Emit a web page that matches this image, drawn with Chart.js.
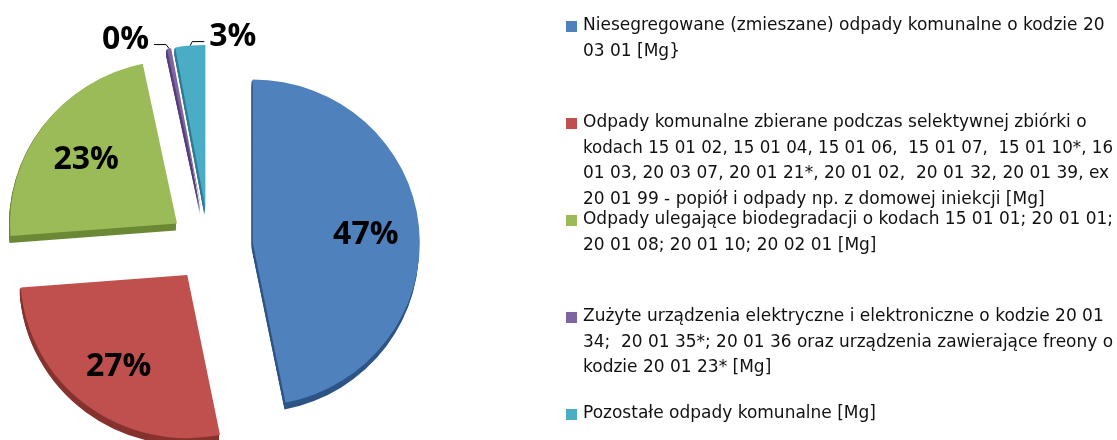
<!DOCTYPE html>
<html>
<head>
<meta charset="utf-8">
<script src="https://cdn.jsdelivr.net/npm/chart.js@4.4.1/dist/chart.umd.min.js"></script>
<style>
  html, body { margin: 0; padding: 0; background: #fff; }
  #wrap { width: 1117px; height: 440px; }
</style>
</head>
<body>
<div id="wrap"><canvas id="wasteChart" width="1117" height="440"></canvas></div>
<script>
/* ---------- dane ---------- */
const categories = [
  ['Niesegregowane (zmieszane) odpady komunalne o kodzie 20', '03 01 [Mg}'],
  ['Odpady komunalne zbierane podczas selektywnej zbiórki o',
   'kodach 15 01 02, 15 01 04, 15 01 06,  15 01 07,  15 01 10*, 16',
   '01 03, 20 03 07, 20 01 21*, 20 01 02,  20 01 32, 20 01 39, ex',
   '20 01 99 - popiół i odpady np. z domowej iniekcji [Mg]'],
  ['Odpady ulegające biodegradacji o kodach 15 01 01; 20 01 01;',
   '20 01 08; 20 01 10; 20 02 01 [Mg]'],
  ['Zużyte urządzenia elektryczne i elektroniczne o kodzie 20 01',
   '34;  20 01 35*; 20 01 36 oraz urządzenia zawierające freony o',
   'kodzie 20 01 23* [Mg]'],
  ['Pozostałe odpady komunalne [Mg]']
];
const shares = [47, 27, 23, 0.4, 2.9];
const colors = ['#4f81bd', '#c0504d', '#9bbb59', '#8064a2', '#4bacc6'];
const sideColors = ['#2f5486', '#86332f', '#6b8936', '#55407a', '#2d7d92'];

/* ---------- wyglad ---------- */
const EXPLODE = [44, 36, 40, 40, 40];
const SQUASH = 0.977;
const DEPTH = 7;
const RADIUS = 167;

function pieGeom(chart) {
  const arcs = chart.getDatasetMeta(0).data;
  return { arcs, cx: arcs[0].x, cy: arcs[0].y };
}

/* ---------- wycinki 3D (rozsuniete) ---------- */
const pie3dPlugin = {
  id: 'pie3d',
  beforeDatasetsDraw(chart) {
    const ctx = chart.ctx;
    const { arcs, cx, cy } = pieGeom(chart);

    const drawArc = (arc, i, dy, fill) => {
      const mid = (arc.startAngle + arc.endAngle) / 2;
      ctx.save();
      ctx.translate(cx, cy);
      ctx.scale(1, SQUASH);
      ctx.translate(-cx, -cy);
      ctx.translate(Math.cos(mid) * EXPLODE[i] - (dy ? 1 : 0), Math.sin(mid) * EXPLODE[i] + dy);
      if (fill) {
        const opts = arc.options;
        arc.options = Object.assign({}, opts, { backgroundColor: fill, borderColor: fill });
        arc.draw(ctx);
        arc.options = opts;
      } else {
        arc.draw(ctx);
      }
      ctx.restore();
    };

    // boki
    for (let d = DEPTH; d >= 1; d--) {
      arcs.forEach((arc, i) => drawArc(arc, i, d, sideColors[i]));
    }
    // wierzch
    arcs.forEach((arc, i) => drawArc(arc, i, 0, null));
    return false;
  }
};

/* ---------- etykiety procentowe ---------- */
function drawPctLabels(chart) {
  const ctx = chart.ctx;
  const { arcs, cx, cy } = pieGeom(chart);
  const total = shares.reduce((a, b) => a + b, 0);
  let smallCount = 0;

  ctx.save();
  ctx.font = 'bold 32px "Open Sans"';
  ctx.fillStyle = '#000';
  ctx.strokeStyle = '#000';
  ctx.lineWidth = 1;

  arcs.forEach((arc, i) => {
    const mid = (arc.startAngle + arc.endAngle) / 2;
    const pct = shares[i] / total * 100;
    const label = Math.round(pct) + '%';
    const vx = cx + Math.cos(mid) * EXPLODE[i];
    const vy = cy + Math.sin(mid) * EXPLODE[i];
    const r = arc.outerRadius;

    if (pct >= 5) {
      const lx = vx + Math.cos(mid) * r * 0.68;
      const ly = cy + (vy + Math.sin(mid) * r * 0.68 - cy) * SQUASH;
      ctx.textAlign = 'center';
      ctx.textBaseline = 'middle';
      ctx.fillText(label, lx, ly + 3);
      return;
    }

    // male wycinki: etykieta nad wykresem z linia odniesienia
    const px = vx + Math.cos(mid) * r;
    const py = cy + (vy + Math.sin(mid) * r - cy) * SQUASH;
    const ly = py - 4;
    const left = smallCount % 2 === 0;
    smallCount++;

    ctx.beginPath();
    ctx.moveTo(px, py);
    if (left) {
      ctx.lineTo(px - 3, ly);
      ctx.lineTo(px - 15, ly);
    } else {
      ctx.lineTo(px + 2, ly);
      ctx.lineTo(px + 14, ly);
    }
    ctx.stroke();

    ctx.textBaseline = 'alphabetic';
    ctx.textAlign = left ? 'right' : 'left';
    ctx.fillText(label, left ? px - 20 : px + 19, ly + 4);
  });
  ctx.restore();
}

/* ---------- legenda ---------- */
const LEGEND_X = 566;
const LEGEND_Y0 = 26;
const LEGEND_STEP = 97;
const LINE_H = 25.5;
const TEXT_MAX = 530;

function drawLegend(chart) {
  const ctx = chart.ctx;
  ctx.save();
  ctx.font = '17px "DejaVu Sans"';
  ctx.textAlign = 'left';
  ctx.textBaseline = 'middle';

  chart.data.labels.forEach((lines, i) => {
    const y = LEGEND_Y0 + i * LEGEND_STEP;
    ctx.fillStyle = colors[i];
    ctx.fillRect(LEGEND_X, y - 5, 11, 11);
    ctx.fillStyle = '#111';
    lines.forEach((line, k) => {
      ctx.fillText(line, LEGEND_X + 17, y + k * LINE_H, TEXT_MAX);
    });
  });
  ctx.restore();
}

const overlayPlugin = {
  id: 'overlay',
  afterDraw(chart) {
    drawPctLabels(chart);
    drawLegend(chart);
  }
};

new Chart(document.getElementById('wasteChart'), {
  type: 'pie',
  data: {
    labels: categories,
    datasets: [{
      data: shares,
      backgroundColor: colors,
      borderWidth: 0,
      radius: RADIUS
    }]
  },
  options: {
    responsive: false,
    animation: false,
    layout: {
      padding: { left: 0, right: 699, top: 54, bottom: 0 }
    },
    plugins: {
      legend: { display: false },
      tooltip: { enabled: false }
    }
  },
  plugins: [pie3dPlugin, overlayPlugin]
});
</script>
</body>
</html>
